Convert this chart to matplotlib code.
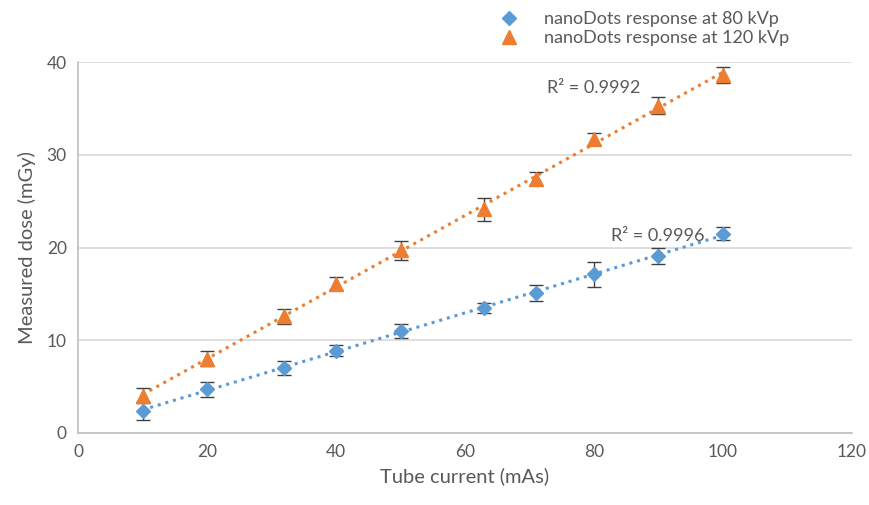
import matplotlib.pyplot as plt
import numpy as np

# Tube current (mAs)
mas = [10, 20, 32, 40, 50, 63, 71, 80, 90, 100]

# Measured dose (mGy) and error
dose_80 = [2.4, 4.7, 7.05, 8.85, 11.0, 13.5, 15.1, 17.1, 19.1, 21.5]
err_80 = [0.95, 0.8, 0.75, 0.6, 0.8, 0.55, 0.9, 1.35, 0.85, 0.7]
dose_120 = [4.0, 8.0, 12.6, 16.1, 19.7, 24.1, 27.4, 31.7, 35.3, 38.6]
err_120 = [0.8, 0.8, 0.8, 0.7, 1.0, 1.2, 0.7, 0.65, 0.9, 0.9]

r2_labels = ["R\u00b2 = 0.9996", "R\u00b2 = 0.9992"]

blue = "#5b9bd5"
orange = "#ed7d31"
grey_txt = "#595959"

plt.rcParams['font.family'] = ['Lato', 'DejaVu Sans']

fig = plt.figure(figsize=(8.69, 5.05), dpi=100)
ax = fig.add_axes([0.0898, 0.1426, 0.8906, 0.7346])

x = np.array(mas)
xs = np.linspace(min(mas), max(mas), 50)

# trendlines
for y, c in [(dose_80, blue), (dose_120, orange)]:
    k, b = np.polyfit(x, y, 1)
    ax.plot(xs, k * xs + b, linestyle=(0, (1, 1.6)), color=c, linewidth=2.2, zorder=2)

# error bars
ax.errorbar(mas, dose_80, yerr=err_80, fmt='none', ecolor='#404040',
            elinewidth=1, capsize=5, capthick=1, zorder=3)
ax.errorbar(mas, dose_120, yerr=err_120, fmt='none', ecolor='#404040',
            elinewidth=1, capsize=5, capthick=1, zorder=3)

l1, = ax.plot(mas, dose_80, linestyle='none', marker='D', markersize=7,
              color=blue, zorder=4, label='nanoDots response at 80 kVp')
l2, = ax.plot(mas, dose_120, linestyle='none', marker='^', markersize=10,
              color=orange, zorder=4, label='nanoDots response at 120 kVp')

ax.text(82.6, 21.2, r2_labels[0], fontsize=13, color=grey_txt, ha='left', va='center')
ax.text(72.7, 37.2, r2_labels[1], fontsize=13, color=grey_txt, ha='left', va='center')

ax.set_xlim(0, 120)
ax.set_ylim(0, 40)
ax.set_xticks(range(0, 121, 20))
ax.set_yticks(range(0, 41, 10))
ax.yaxis.grid(True, color='#d9d9d9', linewidth=1.2)
ax.set_axisbelow(True)
for s in ['top', 'right']:
    ax.spines[s].set_visible(False)
for s in ['left', 'bottom']:
    ax.spines[s].set_color('#bfbfbf')
    ax.spines[s].set_linewidth(1.2)
ax.tick_params(length=0, labelsize=12.5, labelcolor=grey_txt, pad=8)

ax.set_xlabel('Tube current (mAs)', fontsize=14.5, color=grey_txt, labelpad=5)
ax.set_ylabel('Measured dose (mGy)', fontsize=14.5, color=grey_txt, labelpad=8)

fig.legend(handles=[l1, l2], loc='upper left', bbox_to_anchor=(0.554, 1.01),
           frameon=False, fontsize=13, labelcolor=grey_txt, handletextpad=1.35,
           labelspacing=0.15, handlelength=1.2)

fig.savefig('out.png', dpi=100)
